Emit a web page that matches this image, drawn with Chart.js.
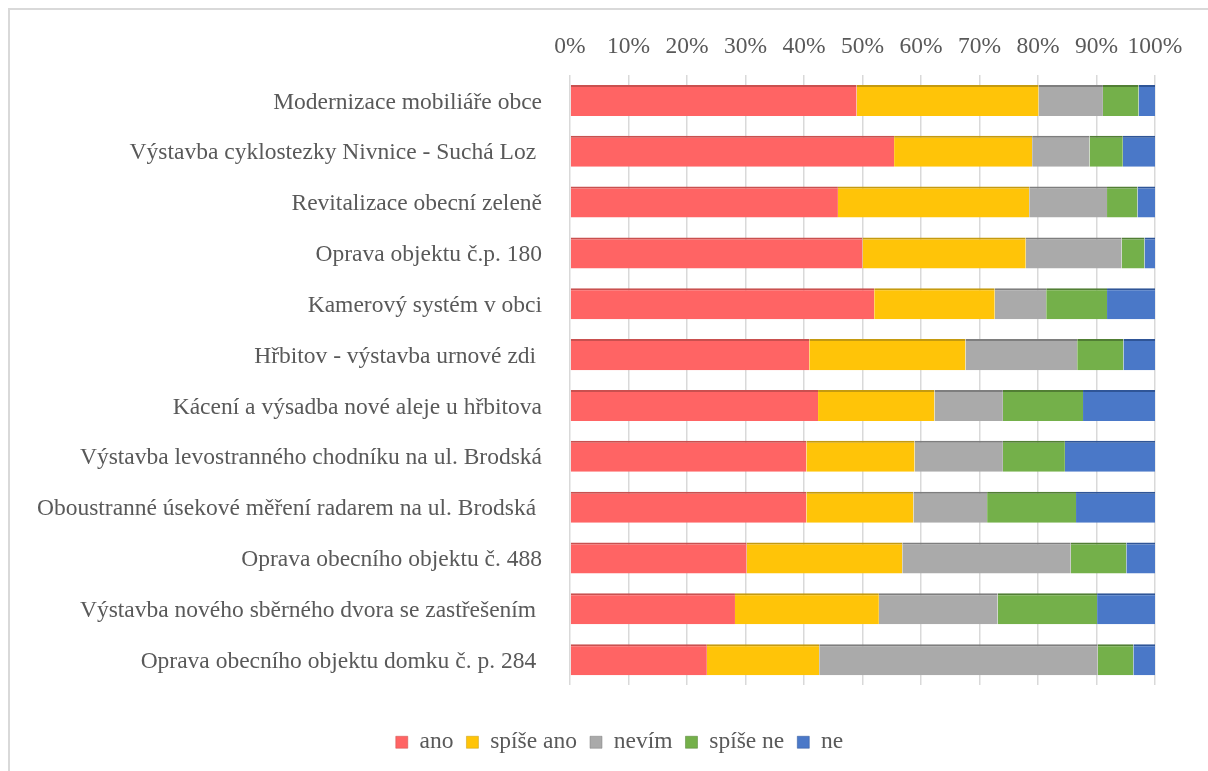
<!DOCTYPE html>
<html>
<head>
<meta charset="utf-8">
<script src="https://cdn.jsdelivr.net/npm/chart.js@4"></script>
<style>
  html, body { margin: 0; padding: 0; background: #fff; }
  .frame {
    position: absolute; left: 8px; top: 8px; width: 1300px; height: 900px;
    border-left: 2px solid #d9d9d9; border-top: 2px solid #d9d9d9;
    box-sizing: border-box;
  }
  .wrap { position: absolute; left: 0; top: 0; width: 1208px; height: 771px; }
</style>
</head>
<body>
<div class="frame"></div>
<div class="wrap"><canvas id="surveyChart" width="1208" height="771"></canvas></div>
<script>
(function () {
  "use strict";

  var categories = [
    "Modernizace mobiliáře obce",
    "Výstavba cyklostezky Nivnice - Suchá Loz ",
    "Revitalizace obecní zeleně",
    "Oprava objektu č.p. 180",
    "Kamerový systém v obci",
    "Hřbitov - výstavba urnové zdi ",
    "Kácení a výsadba nové aleje u hřbitova",
    "Výstavba levostranného chodníku na ul. Brodská",
    "Oboustranné úsekové měření radarem na ul. Brodská ",
    "Oprava obecního objektu č. 488",
    "Výstavba nového sběrného dvora se zastřešením ",
    "Oprava obecního objektu domku č. p. 284 "
  ];

  // podíly odpovědí v %
  var ano      = [49.0, 55.4, 45.8, 50.0, 52.0, 40.9, 42.4, 40.4, 40.4, 30.2, 28.2, 23.4];
  var spiseAno = [31.1, 23.6, 32.7, 27.9, 20.6, 26.7, 19.9, 18.5, 18.3, 26.6, 24.6, 19.2];
  var nevim    = [11.0,  9.8, 13.3, 16.4,  8.8, 19.1, 11.7, 15.1, 12.6, 28.8, 20.3, 47.6];
  var spiseNe  = [ 6.1,  5.7,  5.2,  3.9, 10.4,  7.9, 13.7, 10.6, 15.2,  9.5, 17.0,  6.1];
  var ne       = [ 2.8,  5.5,  3.0,  1.8,  8.2,  5.4, 12.3, 15.4, 13.5,  4.9,  9.9,  3.7];

  var tickValues = [0, 10, 20, 30, 40, 50, 60, 70, 80, 90, 100];

  var FONT = "'Liberation Serif', 'Times New Roman', serif";
  var TEXT = "#595959";
  var SIZE = 23.5;

  function series(label, data, color, edge) {
    return {
      label: label,
      data: data,
      backgroundColor: color,
      borderColor: edge,
      borderWidth: { top: 2, right: 0, bottom: 0, left: 0 },
      borderSkipped: false,
      barPercentage: 0.61,
      categoryPercentage: 1
    };
  }

  // legenda je v originále vycentrovaná na celou šířku obrázku
  var centerLegend = {
    id: "centerLegend",
    beforeDraw: function (chart) {
      var legend = chart.legend;
      if (!legend) return;
      legend.left = 84;
      legend.width = legend.right - legend.left;
    }
  };

  var ctx = document.getElementById("surveyChart").getContext("2d");
  new Chart(ctx, {
    type: "bar",
    data: {
      labels: categories,
      datasets: [
        series("ano", ano, "#FF6464", "#C9504F"),
        series("spíše ano", spiseAno, "#FFC408", "#C49A10"),
        series("nevím", nevim, "#AAAAAA", "#7E7E7E"),
        series("spíše ne", spiseNe, "#74B04A", "#517E34"),
        series("ne", ne, "#4A78C8", "#2F5597")
      ]
    },
    plugins: [centerLegend],
    options: {
      indexAxis: "y",
      responsive: false,
      animation: false,
      layout: {
        padding: { left: 10, right: 53, top: 10, bottom: 7 }
      },
      plugins: {
        tooltip: { enabled: false },
        legend: {
          display: true,
          position: "bottom",
          title: {
            display: true,
            text: "",
            font: { size: 12 },
            padding: { top: 18, bottom: 0 }
          },
          labels: {
            boxWidth: 12,
            boxHeight: 12,
            padding: 13,
            color: TEXT,
            font: { family: FONT, size: SIZE }
          }
        }
      },
      scales: {
        x: {
          position: "top",
          stacked: true,
          min: 0,
          max: 100,
          afterFit: function (scale) { scale.height = 65; },
          afterBuildTicks: function (scale) {
            scale.ticks = tickValues.map(function (v) { return { value: v }; });
          },
          ticks: {
            padding: 14,
            color: TEXT,
            autoSkip: false,
            maxRotation: 0,
            minRotation: 0,
            font: { family: FONT, size: SIZE },
            callback: function (value) { return value + "%"; }
          },
          grid: {
            color: "#d9d9d9",
            lineWidth: 1.5,
            drawTicks: false
          },
          border: { display: false }
        },
        y: {
          stacked: true,
          afterFit: function (scale) { scale.width = 560; },
          ticks: {
            padding: 28,
            labelOffset: 2,
            color: TEXT,
            autoSkip: false,
            font: { family: FONT, size: SIZE }
          },
          grid: { display: false, drawTicks: false },
          border: { display: false }
        }
      }
    }
  });
})();
</script>
</body>
</html>
